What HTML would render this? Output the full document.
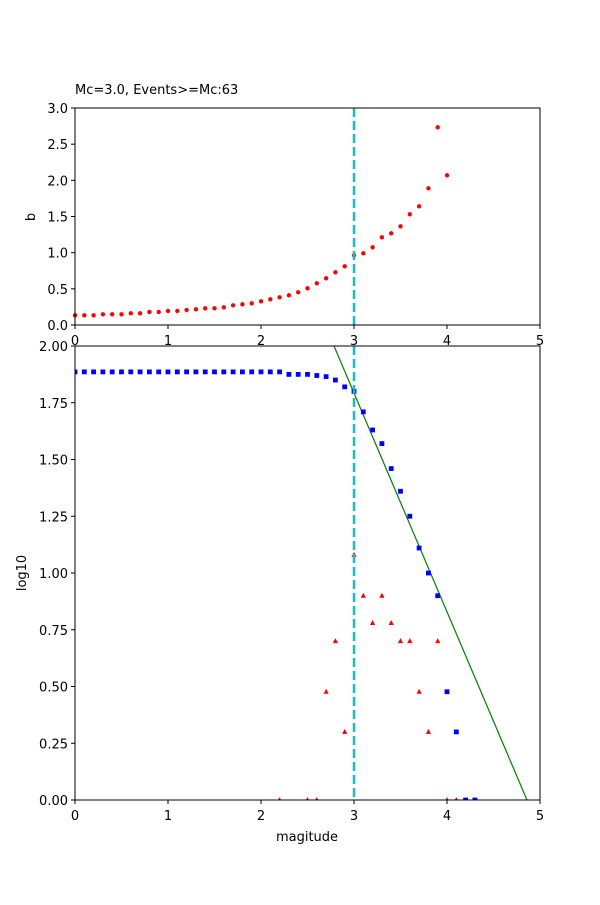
<!DOCTYPE html>
<html><head><meta charset="utf-8"><style>
body{margin:0;background:#fff;}
svg text{font-family:"DejaVu Sans","Liberation Sans",sans-serif;font-size:13px;fill:#000;}
</style></head><body>
<svg id="s" width="600" height="900" xmlns="http://www.w3.org/2000/svg">
<rect width="600" height="900" fill="#fff"/>
<text x="75" y="94">Mc=3.0, Events&gt;=Mc:63</text>
</svg>
<script>
const s=document.getElementById('s');let h='';
const X=v=>75+v*93;
const topZy=[706,706,706,703,703,703,700,700,696,696,693,693,690,688,685,685,682,676,673,670,664,658,652,646,637,625,610,595,577,559,526,520,502,472,460,439,403,379,325,142,286];
topZy.forEach((z,i)=>{h+=`<circle cx="${X(i/10)}" cy="${80+z/3}" r="2.2" fill="red"/>`;});
h+=`<line x1="354" y1="108" x2="354" y2="325" stroke="#17bfbf" stroke-width="2.5" stroke-dasharray="9,4"/>`;
h+=`<rect x="75" y="108" width="465" height="217" fill="none" stroke="#000" stroke-width="1"/>`;
for(let i=0;i<=6;i++){const v=i*0.5,y=325-v*72.33;h+=`<line x1="71" y1="${y}" x2="75" y2="${y}" stroke="#000"/><text x="68" y="${y+5}" text-anchor="end">${v.toFixed(1)}</text>`;}
for(let i=0;i<=5;i++){h+=`<line x1="${X(i)}" y1="325" x2="${X(i)}" y2="329" stroke="#000"/><text x="${X(i)}" y="345" text-anchor="middle">${i}</text>`;}
h+=`<text transform="translate(35,217) rotate(-90)" text-anchor="middle">b</text>`;
const Y=v=>800-v*227;
h+=`<defs><clipPath id="c"><rect x="75" y="346" width="465" height="454"/></clipPath></defs>`;
h+=`<line x1="${X(2.785)}" y1="${Y(2.0)}" x2="${X(4.86)}" y2="${Y(0)}" stroke="green" stroke-width="1.2" clip-path="url(#c)"/>`;
const blue=[];for(let i=0;i<=22;i++)blue.push([i/10,1.886]);
[[2.3,1.875],[2.4,1.875],[2.5,1.875],[2.6,1.87],[2.7,1.865],[2.8,1.85],[2.9,1.82],[3.0,1.8],[3.1,1.71],[3.2,1.63],[3.3,1.57],[3.4,1.46],[3.5,1.36],[3.6,1.25],[3.7,1.11],[3.8,1.0],[3.9,0.9],[4.0,0.477],[4.1,0.3],[4.2,0],[4.3,0]].forEach(p=>blue.push(p));
let g='';
blue.forEach(p=>{g+=`<rect x="${X(p[0])-2.4}" y="${Y(p[1])-2.4}" width="4.8" height="4.8" fill="blue"/>`;});
const red=[[2.2,0],[2.5,0],[2.6,0],[2.7,0.477],[2.8,0.7],[2.9,0.3],[3.0,1.08],[3.1,0.9],[3.2,0.78],[3.3,0.9],[3.4,0.78],[3.5,0.7],[3.6,0.7],[3.7,0.477],[3.8,0.3],[3.9,0.7],[4.0,0],[4.1,0]];
red.forEach(p=>{const x=X(p[0]),y=Y(p[1]);g+=`<polygon points="${x},${y-3} ${x-2.6},${y+2} ${x+2.6},${y+2}" fill="red"/>`;});
h+=`<g clip-path="url(#c)">${g}</g>`;
h+=`<line x1="354" y1="346" x2="354" y2="800" stroke="#17bfbf" stroke-width="2.5" stroke-dasharray="9,4"/>`;
h+=`<rect x="75" y="346" width="465" height="454" fill="none" stroke="#000" stroke-width="1"/>`;
for(let i=0;i<=8;i++){const v=i*0.25,y=Y(v);h+=`<line x1="71" y1="${y}" x2="75" y2="${y}" stroke="#000"/><text x="68" y="${y+5}" text-anchor="end">${v.toFixed(2)}</text>`;}
for(let i=0;i<=5;i++){h+=`<line x1="${X(i)}" y1="800" x2="${X(i)}" y2="804" stroke="#000"/><text x="${X(i)}" y="820" text-anchor="middle">${i}</text>`;}
h+=`<text x="307" y="841" text-anchor="middle">magitude</text>`;
h+=`<text transform="translate(26,573) rotate(-90)" text-anchor="middle">log10</text>`;
s.insertAdjacentHTML('beforeend',h);
</script>
</body></html>
